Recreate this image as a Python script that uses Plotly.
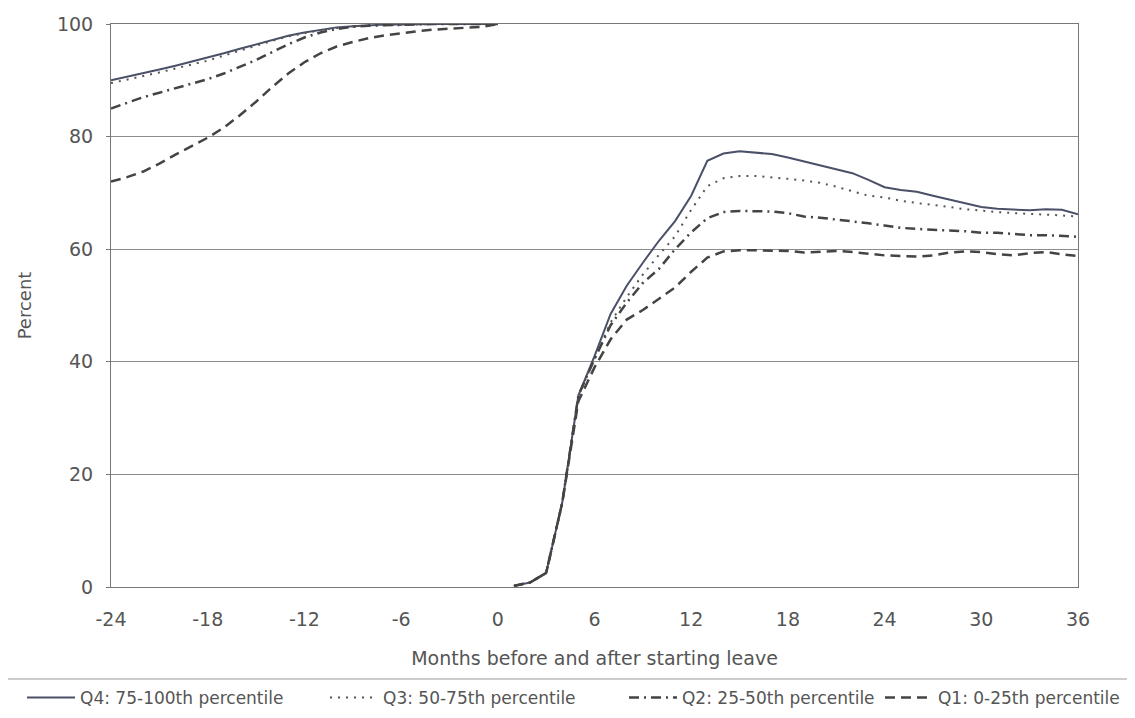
import plotly.graph_objects as go

# ---- data ----
months_pre = list(range(-24, 1))
months_post = list(range(1, 37))

q4_pre = [90.0, 90.6, 91.2, 91.9, 92.6, 93.3, 94.0, 94.8, 95.6, 96.4, 97.2, 97.9, 98.5,
          99.0, 99.4, 99.6, 99.8, 99.9, 99.9, 100, 100, 100, 100, 100, 100]
q3_pre = [89.5, 90.1, 90.7, 91.4, 92.1, 92.8, 93.5, 94.4, 95.3, 96.2, 97.0, 97.8, 98.4,
          98.9, 99.3, 99.6, 99.8, 99.8, 99.9, 100, 100, 100, 100, 100, 100]
q2_pre = [85.0, 86.0, 87.0, 87.8, 88.6, 89.4, 90.2, 91.2, 92.4, 93.6, 95.0, 96.4, 97.6,
          98.5, 99.1, 99.5, 99.7, 99.8, 99.9, 100, 100, 100, 100, 100, 100]
q1_pre = [72.0, 72.8, 73.8, 75.2, 76.8, 78.3, 79.8, 81.6, 83.8, 86.2, 88.8, 91.2, 93.2,
          94.8, 96.0, 96.8, 97.5, 98.0, 98.4, 98.7, 99.0, 99.2, 99.3, 99.5, 100]

q4_post = [0.2, 0.8, 2.5, 15, 34, 41, 48.5, 53.5, 57.6, 61.5, 65, 69.5, 75.7, 77, 77.4,
           77.1, 76.9, 76.3, 75.6, 75.0, 74.3, 73.5, 72.3, 71.0, 70.5, 70.2, 69.5, 68.8,
           68.2, 67.5, 67.2, 67.0, 66.9, 67.1, 67.0, 66.2]
q3_post = [0.2, 0.8, 2.5, 15, 34, 40.5, 47, 51.5, 55.5, 59, 62.3, 67, 71.2, 72.6, 73,
           73, 72.8, 72.5, 72.2, 71.8, 71.1, 70.3, 69.5, 69.2, 68.6, 68.2, 67.9, 67.5,
           67.1, 66.8, 66.6, 66.4, 66.3, 66.2, 66.0, 65.8]
q2_post = [0.2, 0.8, 2.5, 15, 34, 40.5, 46.5, 50.5, 54, 56.5, 60, 63, 65.5, 66.6, 66.8,
           66.8, 66.7, 66.4, 65.8, 65.6, 65.3, 64.9, 64.6, 64.2, 63.8, 63.6, 63.4, 63.3,
           63.2, 62.9, 62.9, 62.7, 62.5, 62.5, 62.3, 62.2]
q1_post = [0.2, 0.8, 2.5, 15, 33, 39, 44, 47.5, 49.2, 51.2, 53.2, 56, 58.5, 59.6, 59.8,
           59.8, 59.8, 59.7, 59.4, 59.6, 59.7, 59.5, 59.2, 58.9, 58.8, 58.7, 58.9, 59.4,
           59.6, 59.5, 59.1, 58.9, 59.3, 59.5, 59.1, 58.8]

series_names = ["Q4: 75-100th percentile", "Q3: 50-75th percentile",
                "Q2: 25-50th percentile", "Q1: 0-25th percentile"]
x_ticks = list(range(-24, 37, 6))
y_ticks = [0, 20, 40, 60, 80, 100]

# ---- styles ----
styles = [
    dict(color="#4a5068", width=2, dash="solid"),
    dict(color="#555555", width=2, dash="2px,6px"),
    dict(color="#444444", width=2.5, dash="10px,5px,2px,5px"),
    dict(color="#444444", width=2.5, dash="10px,6px"),
]
legend_ids = ["legend", "legend2", "legend3", "legend4"]
legend_x = [-0.0920, 0.2213, 0.5305, 0.7952]

x_all = months_pre + [None] + months_post
data = [(q4_pre, q4_post), (q3_pre, q3_post), (q2_pre, q2_post), (q1_pre, q1_post)]

fig = go.Figure()
for name, (pre, post), st, lid in zip(series_names, data, styles, legend_ids):
    fig.add_trace(go.Scatter(
        x=x_all, y=pre + [None] + post, mode="lines", name=name,
        line=st, connectgaps=False, hoverinfo="skip", legend=lid))

font_fam = "DejaVu Sans, Liberation Sans, Arial, sans-serif"
legend_common = dict(orientation="h", xanchor="left", y=-0.1972, yanchor="middle",
                     font=dict(size=17, color="#555555"), bgcolor="rgba(0,0,0,0)",
                     itemwidth=48)
legends = {lid: dict(x=lx, **legend_common) for lid, lx in zip(legend_ids, legend_x)}

fig.update_layout(
    width=1119, height=702,
    margin=dict(l=103, r=49, t=16, b=123, autoexpand=False),
    paper_bgcolor="white", plot_bgcolor="white",
    font=dict(family=font_fam, color="#555555", size=18),
    showlegend=True,
    **legends,
    xaxis=dict(range=[-24, 36], tickvals=x_ticks, ticktext=[str(v) for v in x_ticks],
               showgrid=False, zeroline=False, showline=True, linecolor="#777777",
               linewidth=1, mirror=True, ticks="", tickfont=dict(size=19),
               ticklabelstandoff=15, automargin=False,
               title=dict(text="Months before and after starting leave",
                          font=dict(size=19), standoff=22)),
    yaxis=dict(range=[0, 100], tickvals=y_ticks, showgrid=True, gridcolor="#8c8c8c",
               gridwidth=1, zeroline=False, showline=True, linecolor="#777777",
               linewidth=1, mirror=True, ticks="outside", ticklen=4, tickcolor="#777777",
               tickfont=dict(size=19), ticklabelstandoff=9, automargin=False,
               title=dict(text="Percent", font=dict(size=18), standoff=20)),
    shapes=[
        dict(type="line", xref="paper", yref="paper", x0=-0.2, x1=1.2,
             y0=-0.1634, y1=-0.1634, line=dict(color="#9a9a9a", width=1)),
        dict(type="line", xref="paper", yref="paper", x0=-0.2, x1=1.2,
             y0=-0.2274, y1=-0.2274, line=dict(color="#9a9a9a", width=1)),
    ],
)

fig.write_html("out.html")
